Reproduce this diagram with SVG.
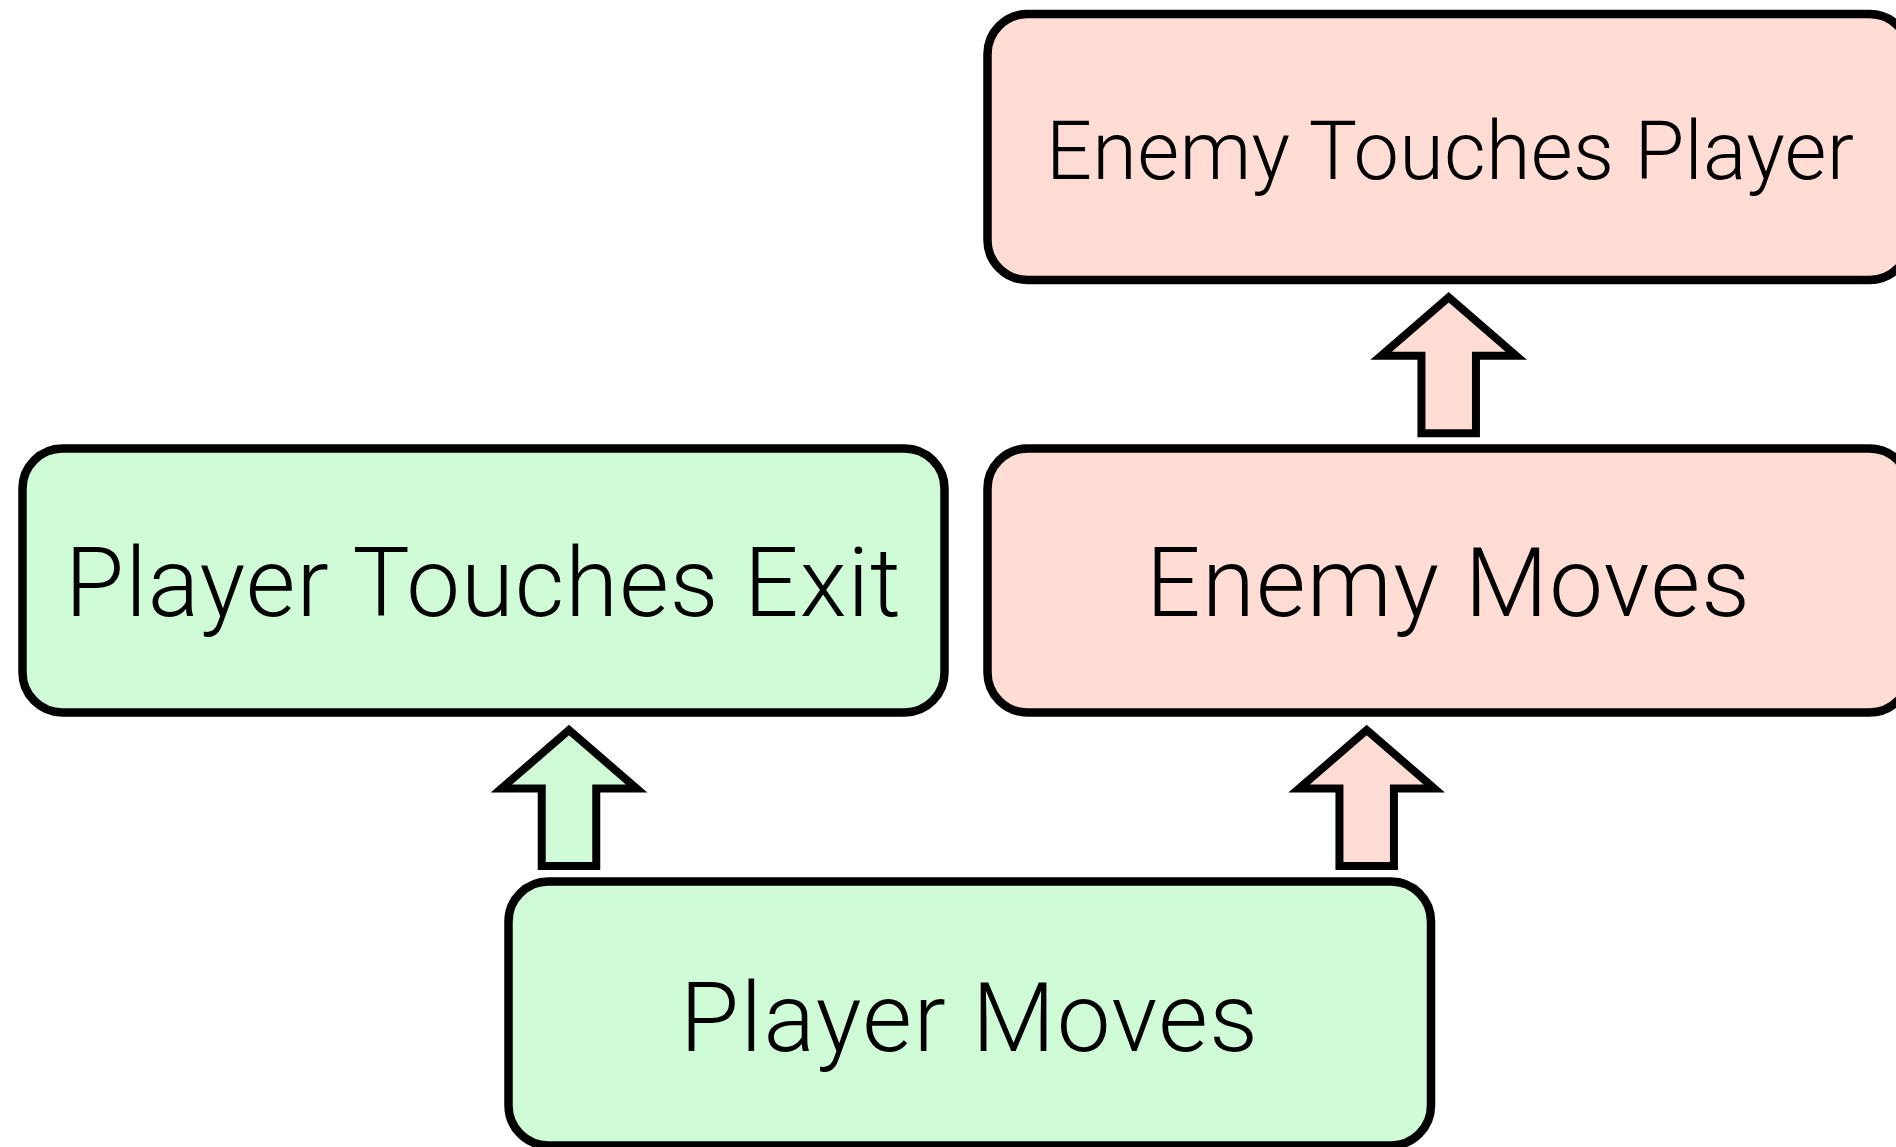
<svg xmlns="http://www.w3.org/2000/svg" xmlns:xlink="http://www.w3.org/1999/xlink" width="1896" height="1147" viewBox="0 0 1896 1147">
<style>
.box{stroke:#000;stroke-width:8.5}
.green{fill:#CFFCD6}
.red{fill:#FFDDD5}
.arrow{stroke:#000;stroke-width:8;stroke-linejoin:miter;stroke-miterlimit:10}
.lbl{font-family:Roboto,"Liberation Sans",sans-serif;font-weight:300;fill:#000;text-anchor:middle}
.big{font-size:96px}
.small{font-size:81px}
</style>
<defs>
<path id="uparrow" d="M0,0 L67.6,58.5 L27.25,58.5 L27.25,136 L-27.25,136 L-27.25,58.5 L-67.6,58.5 Z"/>
</defs>
<rect width="1896" height="1147" fill="#fff"/>
<g id="connectors">
<use xlink:href="#uparrow" class="arrow green" transform="translate(569,730)"/>
<use xlink:href="#uparrow" class="arrow red" transform="translate(1366.7,730)"/>
<use xlink:href="#uparrow" class="arrow red" transform="translate(1448.7,297.3)"/>
</g>
<g id="enemy-touches-player">
<rect class="box red" x="987.5" y="14" width="922" height="266" rx="40"/>
<text class="lbl small" x="1450" y="179" textLength="808">Enemy Touches Player</text>
</g>
<g id="player-touches-exit">
<rect class="box green" x="22.5" y="448.5" width="922" height="264" rx="40"/>
<text class="lbl big" x="483" y="616" textLength="836">Player Touches Exit</text>
</g>
<g id="enemy-moves">
<rect class="box red" x="987.5" y="448.5" width="922" height="264" rx="40"/>
<text class="lbl big" x="1448" y="616" textLength="604">Enemy Moves</text>
</g>
<g id="player-moves">
<rect class="box green" x="508.5" y="881.5" width="922.5" height="264" rx="40"/>
<text class="lbl big" x="969" y="1051" textLength="578">Player Moves</text>
</g>
</svg>
